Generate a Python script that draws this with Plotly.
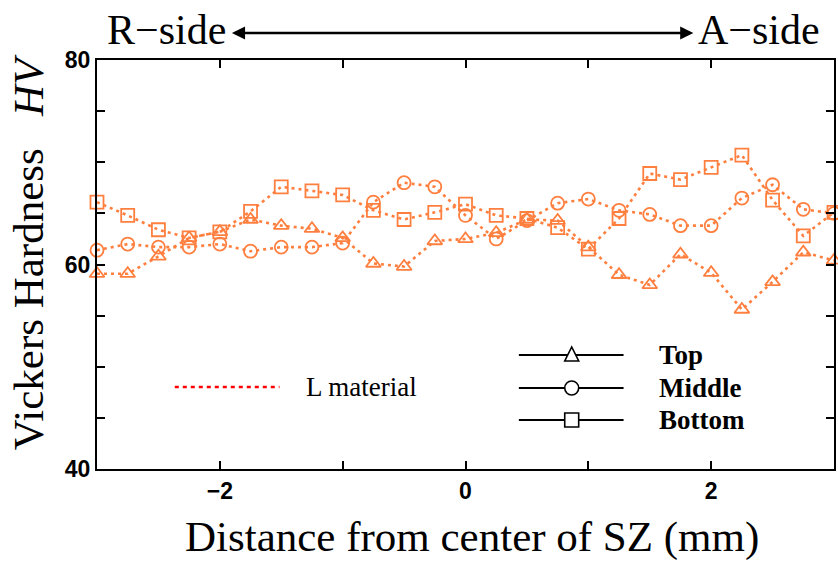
import plotly.graph_objects as go

# Measurement positions across the stir zone (mm)
distance = [-3.0, -2.75, -2.5, -2.25, -2.0, -1.75, -1.5, -1.25, -1.0, -0.75, -0.5, -0.25,
            0.0, 0.25, 0.5, 0.75, 1.0, 1.25, 1.5, 1.75, 2.0, 2.25, 2.5, 2.75, 3.0]

# Vickers hardness (HV) at each depth
hv_top = [59.1, 59.1, 60.8, 62.6, 63.2, 64.4, 63.8, 63.5, 62.6, 60.1, 59.8, 62.3,
          62.5, 63.1, 64.4, 64.3, 61.7, 59.0, 58.0, 61.0, 59.2, 55.6, 58.3, 61.2, 60.4]
hv_middle = [61.4, 62.0, 61.7, 61.7, 62.0, 61.3, 61.7, 61.7, 62.1, 66.1, 68.0, 67.6,
             64.8, 62.5, 64.3, 66.0, 66.4, 65.3, 64.9, 63.8, 63.8, 66.5, 67.8, 65.4, 65.0]
hv_bottom = [66.1, 64.8, 63.4, 62.6, 63.2, 65.2, 67.6, 67.2, 66.8, 65.3, 64.4, 65.1,
             65.9, 64.8, 64.5, 63.6, 61.5, 64.5, 68.9, 68.3, 69.5, 70.7, 66.3, 62.8, 65.1]

series_names = ["Top", "Middle", "Bottom"]
x_tick_vals = [-3, -2, -1, 0, 1, 2, 3]
x_tick_text = ["", "\u22122", "", "0", "", "2", ""]
y_tick_vals = [40, 45, 50, 55, 60, 65, 70, 75, 80]
y_tick_text = ["40", "", "", "", "60", "", "", "", "80"]

ORANGE = "#FF7F3F"
SERIF = "Liberation Serif, Times New Roman, serif"
NARROW = "Liberation Sans Narrow, Arial Narrow, Liberation Sans, sans-serif"

W, H = 838, 563
ML, MR, MT, MB = 97, 2, 60, 94
PW, PH = W - ML - MR, H - MT - MB


def px(xp):
    return (xp - ML) / PW


def py(yp):
    return (H - MB - yp) / PH


fig = go.Figure()
symbols = ["triangle-up-open", "circle-open", "square-open"]
for name, vals, sym in zip(series_names, [hv_top, hv_middle, hv_bottom], symbols):
    fig.add_trace(go.Scatter(
        x=distance, y=vals, name=name, mode="lines+markers",
        line=dict(color=ORANGE, width=2.6, dash="3px,4px"),
        marker=dict(symbol=sym, size=13, color=ORANGE, line=dict(color=ORANGE, width=1.8)),
        cliponaxis=False, showlegend=False,
    ))

axis_common = dict(
    showgrid=False, zeroline=False, showline=True, linecolor="black", linewidth=2,
    mirror="ticks", ticks="inside", ticklen=8, tickwidth=2, tickcolor="black",
    tickfont=dict(family=NARROW, size=23, color="black", weight="bold"),
)
fig.update_xaxes(range=[-3, 3], tickmode="array", tickvals=x_tick_vals,
                 ticktext=x_tick_text, **axis_common)
fig.update_yaxes(range=[40, 80], tickmode="array", tickvals=y_tick_vals,
                 ticktext=y_tick_text, **axis_common)

annotations = [
    dict(text="Vickers Hardness\u00a0\u00a0\u00a0<i>HV</i>", textangle=-90,
         x=px(28), y=py(252), xref="paper", yref="paper", showarrow=False,
         xanchor="center", yanchor="middle", font=dict(family=SERIF, size=43, color="black")),
    dict(text="Distance from center of SZ (mm)", x=px(473), y=py(537),
         xref="paper", yref="paper", showarrow=False, xanchor="center", yanchor="middle",
         font=dict(family=SERIF, size=43, color="black")),
    dict(text="R\u2212side", x=px(167), y=py(30), xref="paper", yref="paper",
         showarrow=False, xanchor="center", yanchor="middle",
         font=dict(family=SERIF, size=42, color="black")),
    dict(text="A\u2212side", x=px(761), y=py(30), xref="paper", yref="paper",
         showarrow=False, xanchor="center", yanchor="middle",
         font=dict(family=SERIF, size=42, color="black")),
    dict(text="", x=px(695), y=py(33), xref="paper", yref="paper",
         showarrow=True, ax=-463, ay=0, axref="pixel", ayref="pixel",
         arrowhead=2, startarrowhead=2, arrowside="end+start",
         arrowsize=1.1, startarrowsize=1.1, arrowwidth=2.4, arrowcolor="black"),
    dict(text="L material", x=px(305), y=py(387), xref="paper", yref="paper",
         showarrow=False, xanchor="left", yanchor="middle",
         font=dict(family=SERIF, size=27, color="black")),
]

shapes = [
    dict(type="line", xref="paper", yref="paper", x0=px(175), x1=px(280),
         y0=py(387), y1=py(387), line=dict(color="red", width=2.5, dash="4px,4px")),
]

# Key for the three depths: black line with an open marker in the middle
key_rows = [355, 388, 420]
mx, r = 573, 7
for name, row, sym in zip(series_names, key_rows, symbols):
    shapes.append(dict(type="line", xref="paper", yref="paper", x0=px(520), x1=px(625),
                       y0=py(row), y1=py(row), line=dict(color="black", width=2)))
    if sym.startswith("triangle"):
        path = "M {:.5f},{:.5f} L {:.5f},{:.5f} L {:.5f},{:.5f} Z".format(
            px(mx - r), py(row + 6), px(mx + r), py(row + 6), px(mx), py(row - 8))
        shapes.append(dict(type="path", xref="paper", yref="paper", path=path,
                           fillcolor="white", line=dict(color="black", width=1.6)))
    else:
        shapes.append(dict(type="circle" if sym.startswith("circle") else "rect",
                           xref="paper", yref="paper",
                           x0=px(mx - r), x1=px(mx + r), y0=py(row + r), y1=py(row - r),
                           fillcolor="white", line=dict(color="black", width=1.6)))
    annotations.append(dict(text="<b>" + name + "</b>", x=px(659), y=py(row),
                            xref="paper", yref="paper", showarrow=False,
                            xanchor="left", yanchor="middle",
                            font=dict(family=SERIF, size=27, color="black")))

fig.update_layout(
    width=W, height=H, margin=dict(l=ML, r=MR, t=MT, b=MB),
    paper_bgcolor="white", plot_bgcolor="white",
    annotations=annotations, shapes=shapes, showlegend=False,
)

fig.write_html("out.html")
